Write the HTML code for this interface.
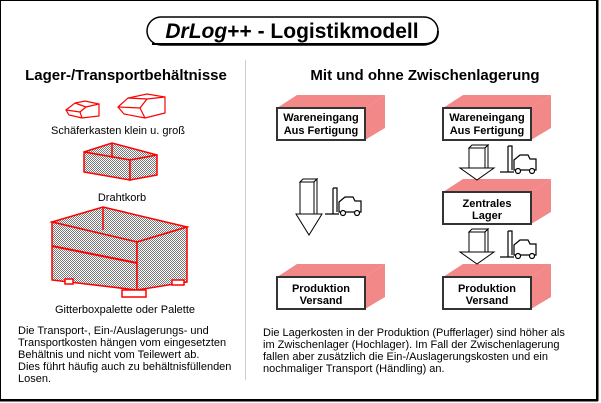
<!DOCTYPE html>
<html><head><meta charset="utf-8"><style>
html,body{margin:0;padding:0;background:#fff;}
svg{display:block;}
text{font-family:"Liberation Sans",Arial,sans-serif;fill:#000;}
</style></head><body>
<svg width="601" height="403" viewBox="0 0 601 403" xmlns="http://www.w3.org/2000/svg">
<defs>
<pattern id="chk" width="2" height="2" patternUnits="userSpaceOnUse">
<rect width="2" height="2" fill="#fff"/><rect width="1" height="1" fill="#777"/><rect x="1" y="1" width="1" height="1" fill="#777"/>
</pattern>
<g id="box">
<polygon points="0,0 20,-13 108,-13 88,0" fill="#f28888"/>
<polygon points="88,0 108,-13 108,20 88,32" fill="#f28888"/>
<rect x="0" y="0" width="88" height="32" fill="#fff" stroke="#333" stroke-width="2"/>
</g>
<g id="arr" fill="#fff" stroke="#000" stroke-width="1">
<polygon points="3,0 19,0 19,20 3,20"/>
<polygon points="3,0 6,-3 22,-3 19,0" />
<polygon points="19,0 22,-3 22,20 19,22"/>
<polygon points="-6,20 28,20 11,32"/>
</g>
<g id="fork" fill="#fff" stroke="#000" stroke-width="1.2">
<path d="M0,26 H14 M8,0 V26 M8,0 H12 V24" fill="none"/>
<path d="M14,14 L20,9 H28 L30,13 H36 V24 H14 Z"/>
<circle cx="18" cy="25" r="2.5"/><circle cx="32" cy="25" r="2.5"/>
</g>
</defs>
<rect x="0.5" y="0.5" width="596" height="399" fill="#fff" stroke="#000"/>
<line x1="597.5" y1="0" x2="597.5" y2="401" stroke="#000" stroke-width="2"/>
<line x1="0" y1="400.5" x2="598" y2="400.5" stroke="#000" stroke-width="2"/>
<rect x="147" y="17" width="291" height="28" rx="14" fill="#fff" stroke="#000" stroke-width="1.5"/>
<path d="M152,44 H424 Q438,44 438,31" fill="none" stroke="#000" stroke-width="2"/>
<text x="292" y="38" font-size="21" font-weight="bold" text-anchor="middle"><tspan font-style="italic">DrLog</tspan>++ - Logistikmodell</text>
<line x1="245.5" y1="60" x2="245.5" y2="380" stroke="#ccc"/>
<text x="126" y="80" font-size="15" font-weight="bold" text-anchor="middle">Lager-/Transportbehältnisse</text>
<text x="425" y="80" font-size="15" font-weight="bold" text-anchor="middle">Mit und ohne Zwischenlagerung</text>
<g fill="none" stroke="#f00" stroke-width="1.2">
<polygon points="66,110 75,103 85,101 99,104 99,116 82,118 69,115"/>
<polyline points="75,103 86,107 99,104"/><polyline points="86,107 80,112 82,118"/><line x1="80" y1="112" x2="66" y2="110"/>
<polygon points="118,107 128,98 147,94 165,97 165,113 145,118 124,114"/>
<polyline points="128,98 147,99 165,97"/><polyline points="147,99 140,108 145,118"/><line x1="140" y1="108" x2="118" y2="107"/>
</g>
<g stroke="#f00" stroke-width="1.5" fill="url(#chk)">
<polygon points="84,152 112,143 157,155 130,160"/>
<polygon points="84,152 130,160 130,180 84,172"/>
<polygon points="130,160 157,155 157,175 130,180"/>
<line x1="112" y1="143" x2="112" y2="158"/>
<polygon points="52,222 103,207 187,227 137,242"/>
<polygon points="52,222 137,242 137,290 52,280"/>
<polygon points="137,242 187,227 187,282 137,290"/>
<line x1="103" y1="207" x2="103" y2="230"/>
<line x1="52" y1="246" x2="137" y2="263" stroke-width="2"/>
<g fill="#fff"><rect x="65" y="279" width="8" height="5"/><rect x="122" y="290" width="24" height="7"/><rect x="172" y="280" width="12" height="5"/></g>
</g>
<g font-size="11" text-anchor="middle">
<text x="118" y="134">Schäferkasten klein u. groß</text>
<text x="122" y="201">Drahtkorb</text>
<text x="125" y="313">Gitterboxpalette oder Palette</text>
</g>
<g font-size="11">
<text x="18" y="334">Die Transport-, Ein-/Auslagerungs- und</text>
<text x="18" y="346">Transportkosten hängen vom eingesetzten</text>
<text x="18" y="358">Behältnis und nicht vom Teilewert ab.</text>
<text x="18" y="370">Dies führt häufig auch zu behältnisfüllenden</text>
<text x="18" y="382">Losen.</text>
<text x="263" y="336">Die Lagerkosten in der Produktion (Pufferlager) sind höher als</text>
<text x="263" y="348">im Zwischenlager (Hochlager). Im Fall der Zwischenlagerung</text>
<text x="263" y="360">fallen aber zusätzlich die Ein-/Auslagerungskosten und ein</text>
<text x="263" y="372">nochmaliger Transport (Händling) an.</text>
</g>
<use href="#box" x="277" y="108"/>
<use href="#box" x="443" y="108"/>
<use href="#box" x="443" y="192"/>
<use href="#box" x="277" y="277"/>
<use href="#box" x="443" y="277"/>
<g font-size="11" font-weight="bold" text-anchor="middle">
<text x="321" y="121">Wareneingang</text><text x="321" y="134">Aus Fertigung</text>
<text x="487" y="121">Wareneingang</text><text x="487" y="134">Aus Fertigung</text>
<text x="487" y="207">Zentrales</text><text x="487" y="219">Lager</text>
<text x="321" y="292">Produktion</text><text x="321" y="304">Versand</text>
<text x="487" y="292">Produktion</text><text x="487" y="304">Versand</text>
</g>
<g fill="#fff" stroke="#000" stroke-width="1">
<polygon points="300,182 314,182 314,214 300,214"/>
<polygon points="300,182 303,179 317,179 314,182"/>
<polygon points="314,182 317,179 317,214 314,216"/>
<polygon points="296,214 322,214 309,235"/>
</g>
<use href="#arr" x="466" y="148"/>
<use href="#arr" x="466" y="232"/>
<use href="#fork" x="325" y="188"/>
<use href="#fork" x="500" y="146"/>
<use href="#fork" x="500" y="231"/>
</svg>
</body></html>
